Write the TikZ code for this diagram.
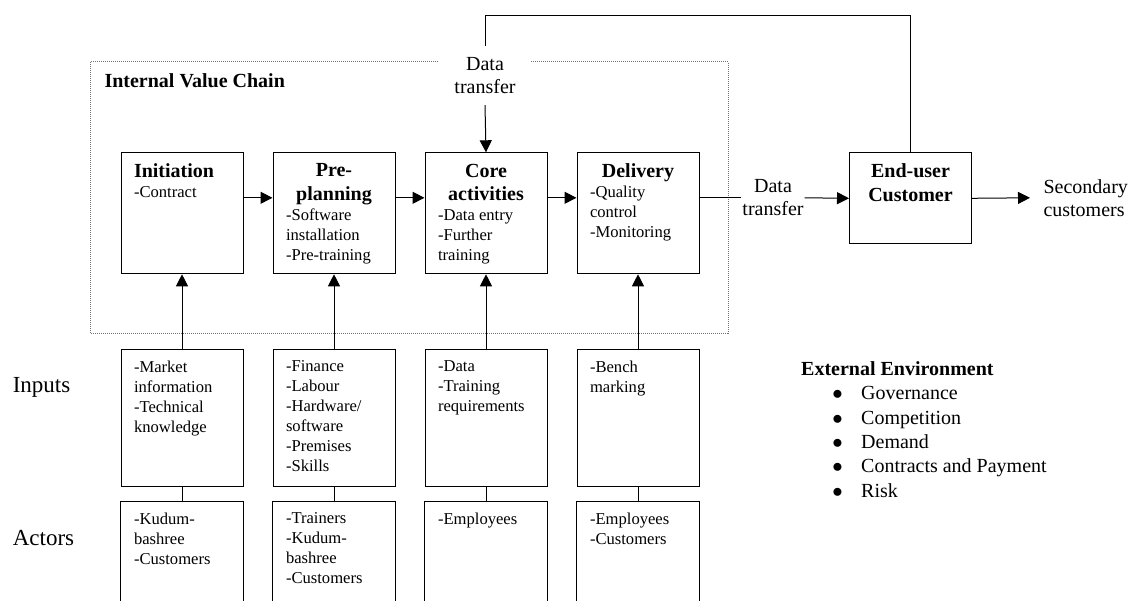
\documentclass[tikz,border=0pt]{standalone}
\usepackage{fontspec}
\setmainfont{Liberation Serif}
\usepackage{tikz}
\usetikzlibrary{arrows.meta}

\newcommand{\bodysize}{\fontsize{16.6}{20}\selectfont}
\newcommand{\headsize}{\fontsize{20}{23.5}\selectfont\bfseries}
\newcommand{\stagehead}[1]{{\centering\headsize #1\par}}
\newcommand{\boxtxt}[2]{\parbox[c][#1][t]{96pt}{\raggedright\bodysize #2}}
\newcommand{\envitem}{\hspace*{31.2pt}\makebox[28.8pt][l]{$\bullet$}}

\begin{document}
\begin{tikzpicture}[x=1pt, y=-1pt, line width=1pt,
    >={Triangle[length=12pt,width=12pt]},
    stagebox/.style={draw, anchor=north west, inner xsep=13pt, inner ysep=11pt},
    actorbox/.style={anchor=north west, inner xsep=13pt, inner ysep=11pt},
    flowlabel/.style={font=\fontsize{20}{23}\selectfont, align=center},
    framedot/.style={line width=0.8pt, black!55, dash pattern=on 0.8pt off 1.2pt}]

    \useasboundingbox (0,0) rectangle (1129,601);

    % Dotted frame of the internal value chain
    \draw[framedot] (90.7,61.7) rectangle (728,333);
    \node[anchor=base west, inner sep=0pt, font=\headsize] (ivc) at (104,87.3) {Internal Value Chain};

    % Stages
    \node[stagebox] (init) at (120.5,152.3) {\boxtxt{99pt}{{\headsize Initiation\par}-Contract}};
    \node[stagebox] (pre) at (272.5,152.3) {\boxtxt{99pt}{\stagehead{Pre-\\planning}-Software\\installation\\-Pre-training}};
    \node[stagebox] (core) at (424.5,152.3) {\boxtxt{99pt}{\stagehead{Core\\activities}-Data entry\\-Further\\training}};
    \node[stagebox] (del) at (576.5,152.3) {\boxtxt{99pt}{\stagehead{Delivery}-Quality\\control\\-Monitoring}};

    % End-user and secondary customers
    \node[stagebox] (eu) at (849,152.3) {\boxtxt{69pt}{\stagehead{End-user\\Customer}}};
    \node[flowlabel, inner xsep=0.5pt] (dt2) at (773,197.8) {Data\\transfer};
    \node[flowlabel, align=left, anchor=west, inner xsep=13pt] (sec) at (1030,197.8) {Secondary\\customers};
    \node[flowlabel, fill=white, inner xsep=15.5pt, inner ysep=11pt] (dt1) at (485,75.5) {Data\\transfer};
    \coordinate (route) at (0,15.7); % height of the feedback line

    % Inputs
    \node[stagebox] (in1) at (120.5,349.3) {\boxtxt{114.4pt}{-Market\\information\\-Technical\\knowledge}};
    \node[stagebox] (in2) at (272.5,349.3) {\boxtxt{114.4pt}{-Finance\\-Labour\\-Hardware/\\software\\-Premises\\-Skills}};
    \node[stagebox] (in3) at (424.5,349.3) {\boxtxt{114.4pt}{-Data\\-Training\\requirements}};
    \node[stagebox] (in4) at (576.5,349.3) {\boxtxt{114.4pt}{-Bench\\marking}};

    % Actors (boxes open at the bottom)
    \node[actorbox] (ac1) at (120.5,501) {\boxtxt{78pt}{-Kudum-\\bashree\\-Customers}};
    \node[actorbox] (ac2) at (272.5,501) {\boxtxt{78pt}{-Trainers\\-Kudum-\\bashree\\-Customers}};
    \node[actorbox] (ac3) at (424.5,501) {\boxtxt{78pt}{-Employees}};
    \node[actorbox] (ac4) at (576.5,501) {\boxtxt{78pt}{-Employees\\-Customers}};
    \draw (ac1.south west) -- (ac1.north west) -- (ac1.north east) -- (ac1.south east);
    \draw (ac2.south west) -- (ac2.north west) -- (ac2.north east) -- (ac2.south east);
    \draw (ac3.south west) -- (ac3.north west) -- (ac3.north east) -- (ac3.south east);
    \draw (ac4.south west) -- (ac4.north west) -- (ac4.north east) -- (ac4.south east);

    % Row labels
    \node[anchor=base west, inner sep=0pt, font=\fontsize{23}{27}\selectfont] (inputs) at (12.3,392) {Inputs};
    \node[anchor=base west, inner sep=0pt, font=\fontsize{23}{27}\selectfont] (actors) at (12.3,545) {Actors};

    % External environment
    \node[anchor=north west, inner sep=0pt, align=left, font=\fontsize{20}{24.3}\selectfont] (env) at (800.7,361.3)
        {\textbf{External Environment}\\
         \envitem Governance\\
         \envitem Competition\\
         \envitem Demand\\
         \envitem Contracts and Payment\\
         \envitem Risk};

    % Flow along the chain
    \draw[->] ([yshift=-45.5pt]init.north east) -- ([yshift=-45.5pt]pre.north west);
    \draw[->] ([yshift=-45.5pt]pre.north east) -- ([yshift=-45.5pt]core.north west);
    \draw[->] ([yshift=-45.5pt]core.north east) -- ([yshift=-45.5pt]del.north west);
    \draw ([yshift=-45.5pt]del.north east) -- (dt2.west);
    \draw[->] (dt2.east) -- (eu.west);
    \draw[->] (eu.east) -- (sec.west);

    % Feedback from the end-user
    \draw (eu.north) -- (eu.north |- route) -| (dt1.north);
    \draw[->] (dt1.south) -- (core.north);

    % Inputs into stages, actors under inputs
    \draw[->] (in1.north) -- (init.south);
    \draw[->] (in2.north) -- (pre.south);
    \draw[->] (in3.north) -- (core.south);
    \draw[->] (in4.north) -- (del.south);
    \draw (in1.south) -- (ac1.north);
    \draw (in2.south) -- (ac2.north);
    \draw (in3.south) -- (ac3.north);
    \draw (in4.south) -- (ac4.north);

\end{tikzpicture}
\end{document}
